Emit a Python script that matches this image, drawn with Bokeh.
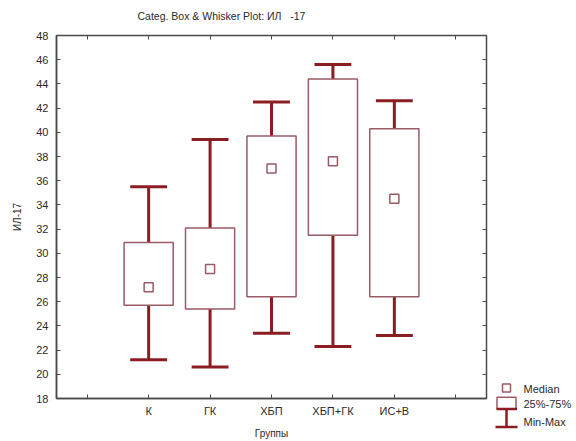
from bokeh.plotting import figure
from bokeh.models import (Range1d, FixedTicker, LinearAxis, ColumnDataSource,
                          CustomLabelingPolicy)
from bokeh.transform import dodge
from bokeh.layouts import row, column
from bokeh.embed import file_html
from bokeh.resources import INLINE
from bokeh.core.properties import value

categories = ["К", "ГК", "ХБП", "ХБП+ГК", "ИС+В"]
q_min = [21.2, 20.6, 23.4, 22.3, 23.2]
q1 = [25.7, 25.4, 26.4, 31.5, 26.4]
median = [27.2, 28.7, 37.0, 37.6, 34.5]
q3 = [30.9, 32.1, 39.7, 44.4, 40.3]
q_max = [35.5, 39.4, 42.5, 45.6, 42.6]
y_ticks = list(range(18, 49, 2))
title_text = "Categ. Box & Whisker Plot: ИЛ\u00a0\u00a0 -17"
legend_labels = ["Median", "25%-75%", "Min-Max"]

FONT = "Liberation Sans"
WHISK = "#8b1c22"
BOXC = "#9a5a64"
TXT = "#2a2a2a"
FRAME = "#4a4a4a"


def blank(fig):
    fig.frame_align = False
    fig.axis.visible = False
    fig.grid.visible = False
    fig.outline_line_color = None
    fig.border_fill_color = "white"
    fig.background_fill_color = "white"


# title strip
tf = figure(width=576, height=24, output_backend="svg", toolbar_location=None, title=None,
            x_range=Range1d(0, 576), y_range=Range1d(24, 0),
            min_border=0, min_border_left=0, min_border_right=0, min_border_top=0, min_border_bottom=0)
blank(tf)
tf.text(x=[137], y=[15], text=[title_text], text_font=value(FONT), text_font_size="10.5px",
        text_color=TXT, text_baseline="middle", text_align="left")

xpos = list(range(1, len(categories) + 1))
src = ColumnDataSource(dict(x=xpos, lo=q_min, q1=q1, med=median, q3=q3, hi=q_max))

p = figure(width=490, height=417, output_backend="svg", toolbar_location=None, title=None,
           x_range=Range1d(-0.5, 6.5), y_range=Range1d(18, 48),
           min_border_left=56, min_border_right=4, min_border_top=11, min_border_bottom=42)
p.frame_align = False
p.background_fill_color = "white"
p.border_fill_color = "white"
p.grid.visible = False
p.outline_line_color = FRAME
p.outline_line_width = 1.5

# axes
p.xaxis.ticker = FixedTicker(ticks=list(range(0, 7)))
ov = {i + 1: c for i, c in enumerate(categories)}
ov[0] = ""
ov[6] = ""
p.xaxis.major_label_overrides = ov
p.yaxis.ticker = FixedTicker(ticks=y_ticks)
p.xaxis.axis_label = "Группы"
p.yaxis.axis_label = "ИЛ-17"
for ax in (p.xaxis[0], p.yaxis[0]):
    ax.major_tick_in = 4
    ax.major_tick_out = 0
    ax.minor_tick_line_color = None
    ax.axis_line_color = FRAME
    ax.axis_line_width = 1.5
    ax.major_tick_line_color = FRAME
    ax.major_label_text_font = FONT
    ax.major_label_text_font_size = "11px"
    ax.major_label_text_color = TXT
    ax.axis_label_text_font = FONT
    ax.axis_label_text_font_size = "10px"
    ax.axis_label_text_font_style = "normal"
    ax.axis_label_text_color = TXT
p.yaxis.major_label_standoff = 8
p.xaxis.major_label_standoff = 6
p.xaxis.axis_label_standoff = 8
p.yaxis.axis_label_standoff = 10

for loc, tk in (("right", FixedTicker(ticks=y_ticks)), ("above", FixedTicker(ticks=list(range(0, 7))))):
    ax = LinearAxis(ticker=tk)
    ax.major_tick_in = 4
    ax.major_tick_out = 0
    ax.minor_tick_line_color = None
    ax.axis_line_color = None
    ax.major_tick_line_color = FRAME
    ax.major_label_text_font_size = "0px"
    ax.major_label_standoff = 0
    ax.major_label_policy = CustomLabelingPolicy(code="for (const i of indices) indices.unset(i)")
    p.add_layout(ax, loc)

# whiskers
p.segment(x0="x", y0="q3", x1="x", y1="hi", source=src, line_color=WHISK, line_width=3)
p.segment(x0="x", y0="lo", x1="x", y1="q1", source=src, line_color=WHISK, line_width=3)
p.segment(x0=dodge("x", -0.3), y0="hi", x1=dodge("x", 0.3), y1="hi", source=src,
          line_color=WHISK, line_width=3)
p.segment(x0=dodge("x", -0.3), y0="lo", x1=dodge("x", 0.3), y1="lo", source=src,
          line_color=WHISK, line_width=3)
# boxes
p.vbar(x="x", bottom="q1", top="q3", width=0.8, source=src, fill_color="white",
       line_color=BOXC, line_width=1.5)
# medians
p.scatter(x="x", y="med", source=src, marker="square", size=9, fill_color="white",
          line_color=BOXC, line_width=1.5)

# legend panel (its own small figure, pixel-like coordinates of the page)
lg = figure(width=86, height=417, output_backend="svg", toolbar_location=None, title=None,
            x_range=Range1d(0, 86), y_range=Range1d(441, 24),
            min_border=0, min_border_left=0, min_border_right=0, min_border_top=0, min_border_bottom=0)
blank(lg)
lsrc = ColumnDataSource(dict(x=[33, 33, 33], y=[388, 403, 421], t=legend_labels))
lg.rect(x=[16], y=[387.5], width=[8], height=[8], fill_color="white", line_color=BOXC, line_width=1.5)
lg.quad(left=[6.5], right=[25.5], top=[396.7], bottom=[408.5], fill_color="white", line_color=BOXC, line_width=1.5)
lg.segment(x0=[16], y0=[408.5], x1=[16], y1=[426.5], line_color=WHISK, line_width=2.5)
lg.segment(x0=[6, 5], y0=[408.5, 426.5], x1=[26.5, 27], y1=[408.5, 426.5], line_color=WHISK, line_width=2.5)
lg.text(x="x", y="y", text="t", source=lsrc, text_font=value(FONT), text_font_size="11px",
        text_color=TXT, text_baseline="middle", text_align="left")

layout = column(tf, row(p, lg, spacing=0), spacing=0)
open("out.html", "w").write(file_html(layout, INLINE))
